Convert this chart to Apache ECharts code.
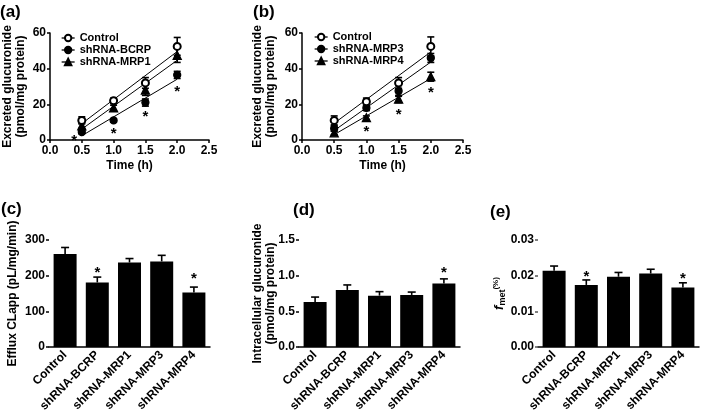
<!DOCTYPE html>
<html>
<head>
<meta charset="utf-8">
<script src="https://cdn.jsdelivr.net/npm/echarts@6/dist/echarts.min.js"></script>
<style>
html,body{margin:0;padding:0;background:#fff;}
#chart{width:701px;height:415px;}
</style>
</head>
<body>
<div id="chart"></div>
<script>
// ---------- Data ----------
const timePoints = [0.5, 1.0, 1.5, 2.0];
const fitX = [0.5, 2.0];

// Panel (a)
const aControl = [11, 22, 32, 52.5];
const aControlErr = [2, 1.5, 3, 5];
const aBCRP = [4.5, 11, 21, 36.5];
const aBCRPErr = [1, 1, 2, 2];
const aMRP1 = [8, 18, 28, 47.5];
const aMRP1Err = [1.5, 1.5, 3, 4];
const aControlFit = [9.2, 49.6];
const aBCRPFit = [2.4, 34.1];
const aMRP1Fit = [6.1, 44.7];
const aStarX = [0.38, 1.0, 1.5, 2.0];
const aStarY = [1.8, 5.5, 15, 29.5];

// Panel (b)
const bControl = [11, 21.5, 32, 52.5];
const bControlErr = [2.5, 2, 3, 5.3];
const bMRP3 = [6.5, 18, 27.5, 46];
const bMRP3Err = [1.5, 1.5, 3, 2.5];
const bMRP4 = [4, 12.5, 23, 35.5];
const bMRP4Err = [1, 1, 2, 2.5];
const bControlFit = [9.4, 49.4];
const bMRP3Fit = [5.3, 43.7];
const bMRP4Fit = [3.0, 34.5];
const bStarX = [1.0, 1.5, 2.0];
const bStarY = [6.6, 16.3, 28.5];

// Bar panels
const categories = ['Control', 'shRNA-BCRP', 'shRNA-MRP1', 'shRNA-MRP3', 'shRNA-MRP4'];
const cValues = [261, 181, 237, 240, 153];
const cErr = [18, 15, 11, 17, 15];
const cStars = [null, 218, null, null, 202];
const dValues = [0.63, 0.80, 0.72, 0.73, 0.89];
const dErr = [0.07, 0.07, 0.056, 0.04, 0.065];
const dStars = [null, null, null, null, 1.09];
const eValues = [0.0214, 0.0174, 0.0197, 0.0206, 0.0167];
const eErr = [0.0013, 0.0014, 0.0012, 0.0012, 0.0013];
const eStars = [null, 0.0209, null, null, 0.0202];

// Tick labels
const timeTicks = ['0.0', '0.5', '1.0', '1.5', '2.0', '2.5'];

// ---------- Helpers ----------
const FONT = "'Liberation Sans', Arial, Helvetica, sans-serif";
const chart = echarts.init(document.getElementById('chart'), null, {renderer: 'canvas'});

function errSeries(idx, xs, ys, es, capW, upOnly) {
  return {
    type: 'custom', xAxisIndex: idx, yAxisIndex: idx, z: 4, silent: true,
    data: xs.map((x, i) => [x, ys[i], es[i]]),
    renderItem: function (params, api) {
      const x = api.value(0), y = api.value(1), e = api.value(2);
      const top = api.coord([x, y + e]);
      const bot = upOnly ? api.coord([x, y]) : api.coord([x, y - e]);
      const st = {stroke: '#000', lineWidth: 1.6};
      const ch = [
        {type: 'line', shape: {x1: top[0], y1: top[1], x2: bot[0], y2: bot[1]}, style: st},
        {type: 'line', shape: {x1: top[0] - capW / 2, y1: top[1], x2: top[0] + capW / 2, y2: top[1]}, style: st}
      ];
      if (!upOnly) ch.push({type: 'line', shape: {x1: bot[0] - capW / 2, y1: bot[1], x2: bot[0] + capW / 2, y2: bot[1]}, style: st});
      return {type: 'group', children: ch};
    }
  };
}

function starSeries(idx, xs, ys) {
  const data = [];
  xs.forEach((x, i) => { if (ys[i] != null) data.push([x, ys[i]]); });
  return {
    type: 'custom', xAxisIndex: idx, yAxisIndex: idx, z: 6, silent: true,
    data: data,
    renderItem: function (params, api) {
      const p = api.coord([api.value(0), api.value(1)]);
      return {type: 'text', style: {text: '*', x: p[0], y: p[1] + 4, textAlign: 'center', textVerticalAlign: 'middle',
        font: 'bold 15px ' + FONT, fill: '#000'}};
    }
  };
}

function pointSeries(idx, name, ys, symbol) {
  return {
    type: 'line', name: name, xAxisIndex: idx, yAxisIndex: idx, z: 5,
    data: timePoints.map((x, i) => [x, ys[i]]),
    symbol: symbol, symbolSize: symbol === 'triangle' ? 8 : 7,
    showAllSymbol: true,
    itemStyle: {color: '#000', borderColor: '#000', borderWidth: 1.3},
    lineStyle: {opacity: 0},
    emphasis: {disabled: true}
  };
}

function fitSeries(idx, ys) {
  return {
    type: 'line', xAxisIndex: idx, yAxisIndex: idx, z: 3, silent: true,
    data: fitX.map((x, i) => [x, ys[i]]),
    symbol: 'none', lineStyle: {color: '#000', width: 1},
    emphasis: {disabled: true}
  };
}

function barSeries(idx, vals) {
  return {
    type: 'bar', xAxisIndex: idx, yAxisIndex: idx, z: 3, silent: true,
    data: vals, barWidth: 23,
    itemStyle: {color: '#000'}
  };
}

const axisLineStyle = {lineStyle: {color: '#000', width: 1.5}};
const tickStyle = {show: true, length: 3, lineStyle: {color: '#000', width: 1.5}};
const tickLabel = {color: '#000', fontFamily: FONT, fontWeight: 'bold', fontSize: 12};
const nameStyle = {color: '#000', fontFamily: FONT, fontWeight: 'bold', fontSize: 12, lineHeight: 13};

function timeAxis(idx) {
  return {
    type: 'value', gridIndex: idx, min: 0, max: 2.5, interval: 0.5,
    axisLine: axisLineStyle, axisTick: tickStyle, splitLine: {show: false},
    axisLabel: Object.assign({}, tickLabel, {margin: 5, formatter: v => timeTicks[Math.round(v / 0.5)]}),
    name: 'Time (h)', nameLocation: 'middle', nameGap: 19, nameMoveOverlap: false, nameTextStyle: nameStyle
  };
}
function valAxis(idx, max, interval, name, gap, dec, lineColor, extraName) {
  return {
    type: 'value', gridIndex: idx, min: 0, max: max, interval: interval,
    axisLine: lineColor ? {lineStyle: {color: lineColor, width: 1.5}} : axisLineStyle,
    axisTick: lineColor ? {show: true, length: 3, lineStyle: {color: lineColor, width: 1.5}} : tickStyle,
    splitLine: {show: false},
    axisLabel: Object.assign({}, tickLabel, {margin: 4, formatter: v => v.toFixed(dec)}),
    name: name, nameLocation: 'middle', nameGap: gap, nameRotate: 90, nameMoveOverlap: false,
    nameTextStyle: Object.assign({}, nameStyle, extraName || {})
  };
}
function catAxis(idx) {
  return {
    type: 'category', gridIndex: idx, data: categories,
    axisLine: axisLineStyle, axisTick: {show: false},
    axisLabel: Object.assign({}, tickLabel, {fontSize: 12, rotate: 45, margin: 6, interval: 0})
  };
}

const legendText = {color: '#000', fontFamily: FONT, fontWeight: 'bold', fontSize: 11, lineHeight: 12};

const option = {
  animation: false,
  backgroundColor: '#fff',
  textStyle: {fontFamily: FONT},
  grid: [
    {left: 49, top: 33, width: 160, height: 107},
    {left: 302, top: 33, width: 161, height: 107},
    {left: 49, top: 240, width: 161, height: 107},
    {left: 299, top: 240, width: 161, height: 107},
    {left: 538, top: 240, width: 161, height: 107}
  ],
  xAxis: [timeAxis(0), timeAxis(1), catAxis(2), catAxis(3), catAxis(4)],
  yAxis: [
    valAxis(0, 60, 20, 'Excreted glucuronide\n(pmol/mg protein)', 23, 0),
    valAxis(1, 60, 20, 'Excreted glucuronide\n(pmol/mg protein)', 25, 0),
    valAxis(2, 300, 100, 'Efflux CLapp (pL/mg/min)', 30, 0),
    valAxis(3, 1.5, 0.5, 'Intracellular glucuronide\n(pmol/mg protein)', 22, 1),
    valAxis(4, 0.03, 0.01, '{f|f}{sub|met}{sup|(%)}', 32, 2, '#555', {
      rich: {
        f: {fontStyle: 'italic', fontWeight: 'bold', fontSize: 13, fontFamily: FONT, color: '#000', verticalAlign: 'middle'},
        sub: {fontWeight: 'bold', fontSize: 9, fontFamily: FONT, color: '#000', padding: [6, 0, 0, 0]},
        sup: {fontWeight: 'bold', fontSize: 8, fontFamily: FONT, color: '#000', padding: [0, 0, 8, 0]}
      }
    })
  ],
  legend: [
    {
      left: 56, top: 27, orient: 'vertical', itemWidth: 13, itemHeight: 8, itemGap: 0,
      data: ['Control', 'shRNA-BCRP', 'shRNA-MRP1'],
      textStyle: legendText,
      lineStyle: {color: '#000', width: 1.3, opacity: 1}, selectedMode: false
    },
    {
      left: 309, top: 26, orient: 'vertical', itemWidth: 13, itemHeight: 8, itemGap: 0,
      data: ['Control', 'shRNA-MRP3', 'shRNA-MRP4'],
      textStyle: legendText,
      lineStyle: {color: '#000', width: 1.3, opacity: 1}, selectedMode: false
    }
  ],
  graphic: [
    {type: 'text', left: 0, top: 4, style: {text: '(a)', font: 'bold 17px ' + FONT, fill: '#000'}},
    {type: 'text', left: 253, top: 4, style: {text: '(b)', font: 'bold 17px ' + FONT, fill: '#000'}},
    {type: 'text', left: 1, top: 201, style: {text: '(c)', font: 'bold 17px ' + FONT, fill: '#000'}},
    {type: 'text', left: 293, top: 202, style: {text: '(d)', font: 'bold 17px ' + FONT, fill: '#000'}},
    {type: 'text', left: 490, top: 204, style: {text: '(e)', font: 'bold 17px ' + FONT, fill: '#000'}}
  ],
  series: [
    // (a)
    fitSeries(0, aControlFit), fitSeries(0, aBCRPFit), fitSeries(0, aMRP1Fit),
    errSeries(0, timePoints, aControl, aControlErr, 7, false),
    errSeries(0, timePoints, aBCRP, aBCRPErr, 7, false),
    errSeries(0, timePoints, aMRP1, aMRP1Err, 7, false),
    pointSeries(0, 'shRNA-MRP1', aMRP1, 'triangle'),
    pointSeries(0, 'shRNA-BCRP', aBCRP, 'circle'),
    pointSeries(0, 'Control', aControl, 'emptyCircle'),
    starSeries(0, aStarX, aStarY),
    // (b)
    fitSeries(1, bControlFit), fitSeries(1, bMRP3Fit), fitSeries(1, bMRP4Fit),
    errSeries(1, timePoints, bControl, bControlErr, 7, false),
    errSeries(1, timePoints, bMRP3, bMRP3Err, 7, false),
    errSeries(1, timePoints, bMRP4, bMRP4Err, 7, false),
    pointSeries(1, 'shRNA-MRP4', bMRP4, 'triangle'),
    pointSeries(1, 'shRNA-MRP3', bMRP3, 'circle'),
    pointSeries(1, 'Control', bControl, 'emptyCircle'),
    starSeries(1, bStarX, bStarY),
    // (c)
    barSeries(2, cValues),
    errSeries(2, categories, cValues, cErr, 8, true),
    starSeries(2, categories, cStars),
    // (d)
    barSeries(3, dValues),
    errSeries(3, categories, dValues, dErr, 8, true),
    starSeries(3, categories, dStars),
    // (e)
    barSeries(4, eValues),
    errSeries(4, categories, eValues, eErr, 8, true),
    starSeries(4, categories, eStars)
  ]
};
chart.setOption(option);
</script>
</body>
</html>
